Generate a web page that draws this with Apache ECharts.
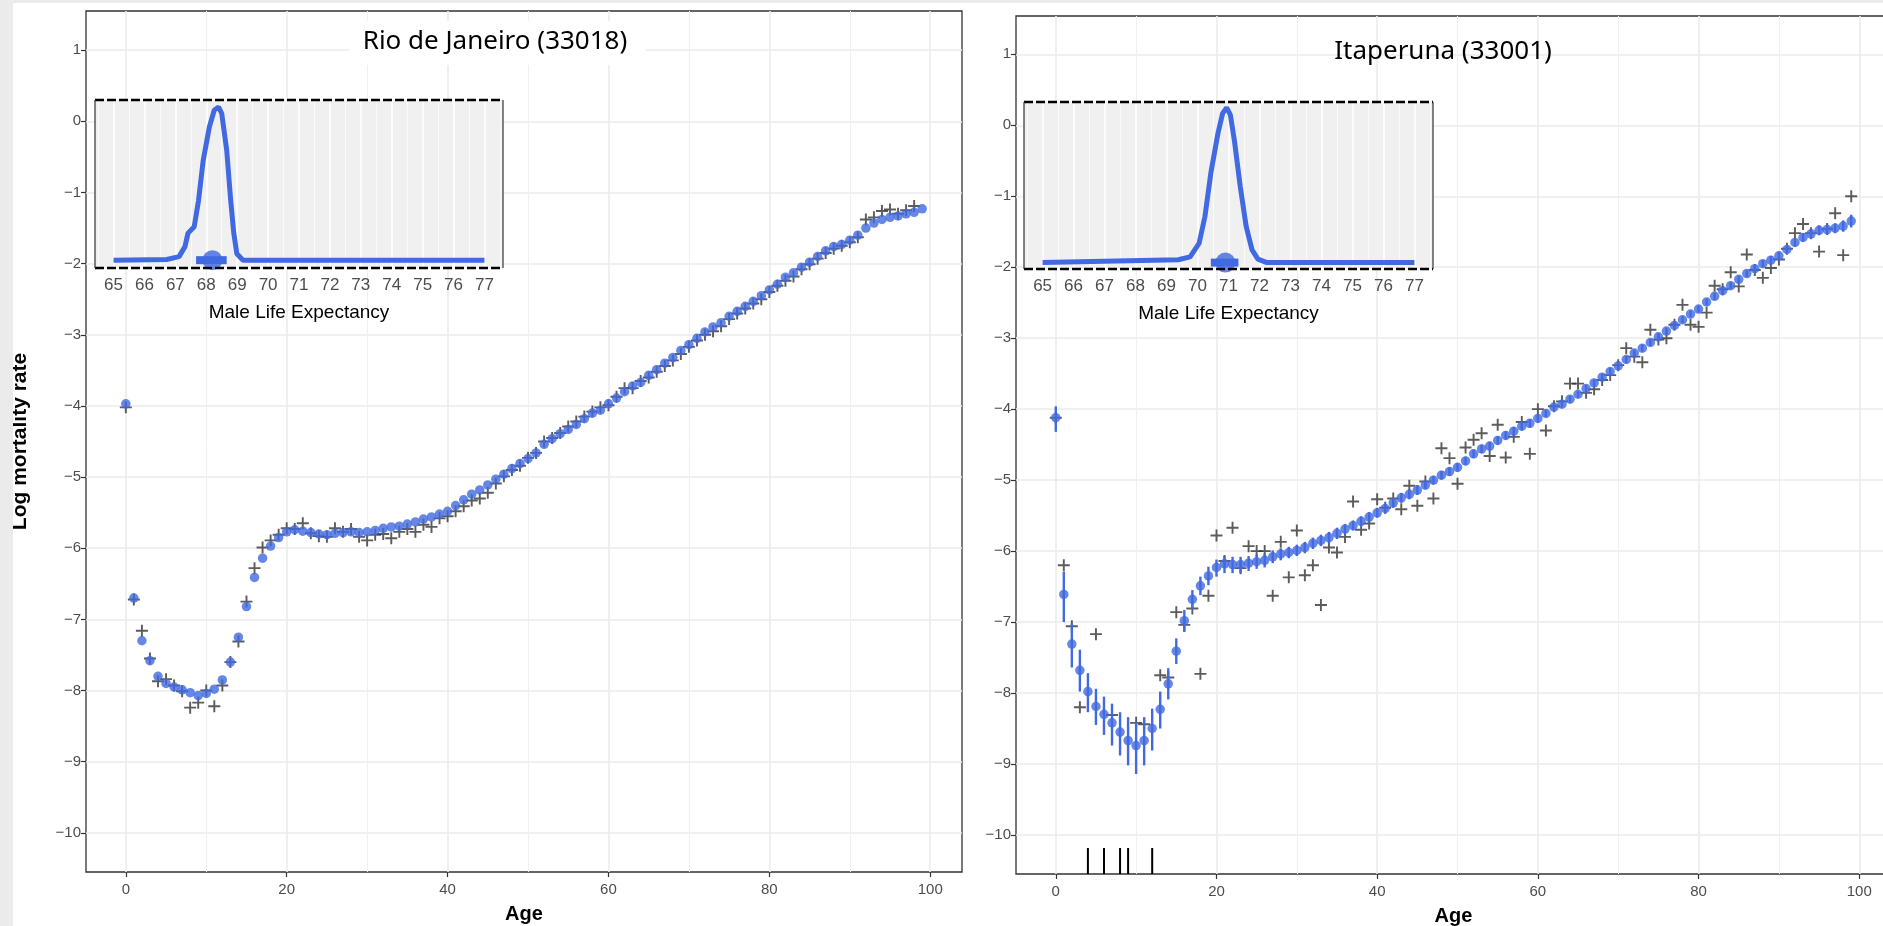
<!DOCTYPE html>
<html>
<head>
<meta charset="utf-8">
<title>Log mortality rate by age</title>
<style>
  body { margin: 0; padding: 0; background: #fff; }
  #chart { width: 1883px; height: 926px; }
</style>
<script src="https://cdn.jsdelivr.net/npm/echarts@6.0.0/dist/echarts.min.js"></script>
</head>
<body>
<div id="chart"></div>
<script>
// ages 0..99
var ages = [0,1,2,3,4,5,6,7,8,9,10,11,12,13,14,15,16,17,18,19,20,21,22,23,24,25,26,27,28,29,
  30,31,32,33,34,35,36,37,38,39,40,41,42,43,44,45,46,47,48,49,50,51,52,53,54,55,56,57,58,59,
  60,61,62,63,64,65,66,67,68,69,70,71,72,73,74,75,76,77,78,79,80,81,82,83,84,85,86,87,88,89,
  90,91,92,93,94,95,96,97,98,99];

// Rio de Janeiro: fitted (dots) and observed (crosses)
var rioFit = [-3.97,-6.70,-7.30,-7.58,-7.80,-7.90,-7.95,-7.99,-8.03,-8.07,
  -8.04,-7.98,-7.85,-7.60,-7.25,-6.82,-6.41,-6.14,-5.97,-5.85,
  -5.77,-5.74,-5.76,-5.78,-5.80,-5.81,-5.79,-5.78,-5.77,-5.78,
  -5.77,-5.75,-5.72,-5.70,-5.69,-5.66,-5.63,-5.59,-5.56,-5.52,
  -5.48,-5.40,-5.32,-5.24,-5.18,-5.11,-5.03,-4.96,-4.88,-4.81,
  -4.74,-4.66,-4.54,-4.46,-4.39,-4.33,-4.26,-4.18,-4.10,-4.06,
  -3.97,-3.89,-3.80,-3.72,-3.67,-3.57,-3.49,-3.40,-3.32,-3.22,
  -3.14,-3.05,-2.96,-2.89,-2.83,-2.74,-2.67,-2.60,-2.53,-2.45,
  -2.37,-2.29,-2.19,-2.13,-2.05,-1.98,-1.90,-1.82,-1.76,-1.73,
  -1.67,-1.60,-1.50,-1.43,-1.38,-1.35,-1.33,-1.30,-1.28,-1.23];
var rioObs = [-4.02,-6.72,-7.16,-7.55,-7.87,-7.84,-7.93,-8.01,-8.24,-8.17,
  -8.00,-8.22,-7.93,-7.60,-7.31,-6.75,-6.28,-5.99,-5.89,-5.81,
  -5.72,-5.73,-5.65,-5.79,-5.83,-5.84,-5.72,-5.77,-5.73,-5.84,
  -5.89,-5.81,-5.80,-5.86,-5.77,-5.73,-5.77,-5.67,-5.70,-5.58,
  -5.55,-5.48,-5.41,-5.33,-5.30,-5.22,-5.09,-4.99,-4.90,-4.84,
  -4.73,-4.66,-4.50,-4.45,-4.38,-4.29,-4.22,-4.15,-4.08,-4.02,
  -3.99,-3.87,-3.75,-3.75,-3.65,-3.60,-3.52,-3.44,-3.36,-3.27,
  -3.17,-3.08,-3.00,-2.95,-2.88,-2.78,-2.70,-2.63,-2.56,-2.50,
  -2.40,-2.31,-2.24,-2.18,-2.08,-2.01,-1.93,-1.85,-1.79,-1.75,
  -1.70,-1.63,-1.38,-1.35,-1.26,-1.24,-1.30,-1.25,-1.19,null];

// Itaperuna: fitted, interval bounds, observed, ages with zero deaths
var itaFit = [-4.12,-6.61,-7.31,-7.68,-7.98,-8.19,-8.30,-8.42,-8.55,-8.67,
  -8.74,-8.67,-8.50,-8.23,-7.87,-7.41,-6.98,-6.68,-6.49,-6.35,
  -6.23,-6.18,-6.19,-6.19,-6.17,-6.15,-6.13,-6.08,-6.04,-6.02,
  -5.99,-5.95,-5.89,-5.85,-5.81,-5.75,-5.69,-5.64,-5.58,-5.52,
  -5.46,-5.40,-5.32,-5.25,-5.20,-5.14,-5.07,-5.00,-4.93,-4.88,
  -4.82,-4.73,-4.63,-4.56,-4.52,-4.44,-4.37,-4.31,-4.24,-4.20,
  -4.13,-4.06,-3.97,-3.93,-3.86,-3.79,-3.71,-3.63,-3.55,-3.47,
  -3.39,-3.30,-3.21,-3.14,-3.06,-2.98,-2.90,-2.82,-2.74,-2.66,
  -2.59,-2.49,-2.41,-2.33,-2.26,-2.17,-2.09,-2.02,-1.95,-1.90,
  -1.84,-1.75,-1.65,-1.58,-1.53,-1.48,-1.47,-1.45,-1.42,-1.35];
var itaLow = [-4.32,-7.00,-7.64,-7.98,-8.27,-8.45,-8.59,-8.74,-8.88,-9.02,
  -9.14,-9.02,-8.81,-8.50,-8.09,-7.59,-7.14,-6.82,-6.62,-6.48,
  -6.36,-6.31,-6.31,-6.31,-6.28,-6.25,-6.23,-6.17,-6.13,-6.10,
  -6.07,-6.03,-5.97,-5.93,-5.89,-5.83,-5.76,-5.71,-5.65,-5.59,
  -5.53,-5.47,-5.39,-5.32,-5.27,-5.21,-5.13,-5.06,-4.99,-4.94,
  -4.88,-4.79,-4.69,-4.62,-4.58,-4.50,-4.43,-4.37,-4.30,-4.26,
  -4.19,-4.11,-4.02,-3.98,-3.91,-3.84,-3.76,-3.68,-3.60,-3.52,
  -3.44,-3.35,-3.26,-3.19,-3.11,-3.03,-2.95,-2.87,-2.79,-2.71,
  -2.64,-2.54,-2.46,-2.38,-2.31,-2.22,-2.14,-2.07,-2.00,-1.96,
  -1.90,-1.81,-1.71,-1.64,-1.60,-1.55,-1.54,-1.52,-1.50,-1.44];
var itaHigh = [-3.96,-6.29,-7.02,-7.39,-7.72,-7.94,-8.05,-8.15,-8.27,-8.34,
  -8.41,-8.34,-8.22,-7.98,-7.65,-7.23,-6.83,-6.55,-6.36,-6.22,
  -6.12,-6.07,-6.08,-6.08,-6.07,-6.05,-6.04,-5.99,-5.96,-5.94,
  -5.91,-5.87,-5.81,-5.77,-5.73,-5.67,-5.62,-5.57,-5.51,-5.45,
  -5.39,-5.33,-5.25,-5.18,-5.13,-5.07,-5.01,-4.94,-4.87,-4.82,
  -4.76,-4.67,-4.57,-4.50,-4.46,-4.38,-4.31,-4.25,-4.18,-4.14,
  -4.07,-4.01,-3.92,-3.88,-3.81,-3.74,-3.66,-3.58,-3.50,-3.42,
  -3.34,-3.25,-3.16,-3.09,-3.01,-2.93,-2.85,-2.77,-2.69,-2.61,
  -2.54,-2.44,-2.36,-2.28,-2.21,-2.12,-2.04,-1.97,-1.90,-1.84,
  -1.78,-1.69,-1.59,-1.52,-1.46,-1.41,-1.40,-1.38,-1.34,-1.26];
var itaObs = [-4.12,-6.20,-7.06,-8.20,null,-7.17,null,-8.31,null,null,
  -8.42,-8.44,null,-7.75,-7.78,-6.86,-7.04,-6.81,-7.73,-6.63,
  -5.78,-6.14,-5.67,-6.24,-5.93,-6.00,-6.00,-6.63,-5.87,-6.37,
  -5.71,-6.34,-6.20,-6.76,-5.95,-6.02,-5.80,-5.30,-5.70,-5.61,
  -5.27,-5.39,-5.26,-5.41,-5.08,-5.36,-5.02,-5.26,-4.55,-4.69,
  -5.05,-4.54,-4.43,-4.34,-4.66,-4.22,-4.68,-4.39,-4.18,-4.63,
  -4.00,-4.30,-3.96,-3.89,-3.64,-3.64,-3.77,-3.72,-3.59,-3.52,
  -3.38,-3.14,-3.26,-3.34,-2.88,-3.02,-3.00,-2.81,-2.53,-2.81,
  -2.84,-2.64,-2.26,-2.31,-2.07,-2.27,-1.82,-2.04,-2.15,-2.01,
  -1.89,-1.74,-1.52,-1.39,-1.52,-1.78,-1.46,-1.24,-1.83,-1.00];
var itaRugAges = [4, 6, 8, 9, 12];

// inset: male life expectancy density
var rioDensX = [65, 66.72, 67.12, 67.31, 67.41, 67.61, 67.75, 67.9, 68.1, 68.26, 68.4, 68.5, 68.66, 68.79, 68.89, 68.99, 69.19, 77];
var rioDensY = [-1.95, -1.94, -1.90, -1.76, -1.57, -1.48, -1.11, -0.55, -0.08, 0.16, 0.20, 0.11, -0.40, -1.11, -1.57, -1.86, -1.95, -1.95];
var rioLE = 68.2, rioLEInt = [67.67, 68.66], rioBase = -1.95;
var itaDensX = [65, 69.38, 69.76, 70.05, 70.24, 70.43, 70.66, 70.81, 70.94, 71.06, 71.19, 71.38, 71.57, 71.76, 71.95, 72.24, 77];
var itaDensY = [-1.93, -1.89, -1.85, -1.66, -1.28, -0.67, -0.11, 0.17, 0.25, 0.15, -0.21, -0.86, -1.42, -1.75, -1.88, -1.93, -1.93];
var itaLE = 70.9, itaLEInt = [70.43, 71.32], itaBase = -1.93;

// tick labels
var ageTicks = [0, 20, 40, 60, 80, 100];
var ageMinor = [10, 30, 50, 70, 90];
var yTicks = [1, 0, -1, -2, -3, -4, -5, -6, -7, -8, -9, -10];
var leTicks = [65, 66, 67, 68, 69, 70, 71, 72, 73, 74, 75, 76, 77];
var leMinor = [64.5, 65.5, 66.5, 67.5, 68.5, 69.5, 70.5, 71.5, 72.5, 73.5, 74.5, 75.5, 76.5, 77.5];

var BLUE = '#4169e1';
var FONT = 'Liberation Sans, Arial, sans-serif';
var insetL = {left: 95, top: 100, width: 408, height: 168};
var insetR = {left: 1024, top: 102, width: 409, height: 167};

function pairs(xs, ys) {
    var out = [];
    for (var i = 0; i < xs.length; i++) {
        if (ys[i] !== null) out.push([xs[i], ys[i]]);
    }
    return out;
}
function minus(v) { return String(v).replace('-', '\u2212'); }

function majorX(gi) {
    return {
        gridIndex: gi, type: 'value', min: -4.95, max: 103.95, position: 'bottom',
        axisLine: {show: false, onZero: false},
        axisTick: {show: true, customValues: ageTicks, length: 5, lineStyle: {color: '#333', width: 1.2}},
        axisLabel: {customValues: ageTicks, color: '#4d4d4d', fontSize: 15, margin: 10, fontFamily: FONT},
        splitLine: {show: true, lineStyle: {color: '#ebebeb', width: 1.6}},
        name: 'Age', nameLocation: 'middle', nameGap: 32,
        nameTextStyle: {fontSize: 20, fontWeight: 'bold', color: '#000', fontFamily: FONT}
    };
}
function minorX(gi, minV, maxV, vals, color) {
    return {
        gridIndex: gi, type: 'value', min: minV, max: maxV, position: 'bottom', z: gi > 1 ? 4 : 0,
        axisLine: {show: false, onZero: false},
        axisTick: {show: false, customValues: vals},
        axisLabel: {show: false},
        splitLine: {show: true, lineStyle: {color: color, width: 1}}
    };
}
function mainY(gi, maxV, withName) {
    var ax = {
        gridIndex: gi, type: 'value', min: -10.55, max: maxV, position: 'left',
        axisLine: {show: false, onZero: false},
        axisTick: {show: true, customValues: yTicks, length: 5, lineStyle: {color: '#333', width: 1.2}},
        axisLabel: {customValues: yTicks, color: '#4d4d4d', fontSize: 15, margin: 5, fontFamily: FONT,
            formatter: function (v) { return minus(v); }},
        splitLine: {show: true, lineStyle: {color: '#ebebeb', width: 1.6}}
    };
    if (withName) {
        ax.name = 'Log mortality rate';
        ax.nameLocation = 'middle';
        ax.nameGap = 55;
        ax.nameTextStyle = {fontSize: 21, fontWeight: 'bold', color: '#000', fontFamily: FONT};
    }
    return ax;
}
function insetX(gi) {
    return {
        gridIndex: gi, type: 'value', min: 64.4, max: 77.6, z: 4, position: 'bottom',
        axisLine: {show: false, onZero: false},
        axisTick: {show: false, customValues: leTicks},
        axisLabel: {customValues: leTicks, color: '#4d4d4d', fontSize: 17, margin: 9, fontFamily: FONT},
        splitLine: {show: true, lineStyle: {color: '#ffffff', width: 1.6}},
        name: 'Male Life Expectancy', nameLocation: 'middle', nameGap: 35,
        nameTextStyle: {fontSize: 19, color: '#000', fontFamily: FONT}
    };
}
function insetY(gi, minV, maxV) {
    return {gridIndex: gi, type: 'value', min: minV, max: maxV, show: false,
        axisLine: {onZero: false}, splitLine: {show: false}};
}

function crossSeries(xi, yi, data) {
    return {
        type: 'scatter', xAxisIndex: xi, yAxisIndex: yi, data: data, z: 2,
        symbol: 'path://M4.2,0H5.8V4.2H10V5.8H5.8V10H4.2V5.8H0V4.2H4.2Z',
        symbolSize: 12, symbolKeepAspect: true,
        itemStyle: {color: '#333333'}, silent: true
    };
}
function dotSeries(xi, yi, data) {
    return {
        type: 'scatter', xAxisIndex: xi, yAxisIndex: yi, data: data, z: 3,
        symbol: 'circle', symbolSize: 9.5, itemStyle: {color: BLUE}, silent: true
    };
}
function densitySeries(xi, yi, xs, ys, le, leInt, base) {
    return [{
        type: 'line', xAxisIndex: xi, yAxisIndex: yi, data: pairs(xs, ys), z: 5,
        showSymbol: false, smooth: false, lineStyle: {color: BLUE, width: 5}, silent: true
    }, {
        type: 'line', xAxisIndex: xi, yAxisIndex: yi, data: [[leInt[0], base], [leInt[1], base]], z: 6,
        showSymbol: false, lineStyle: {color: BLUE, width: 8}, silent: true
    }, {
        type: 'scatter', xAxisIndex: xi, yAxisIndex: yi, data: [[le, base]], z: 7,
        symbol: 'circle', symbolSize: 20, itemStyle: {color: BLUE}, silent: true, clip: false
    }];
}

var itaBars = [];
for (var i = 0; i < ages.length; i++) itaBars.push([ages[i], itaLow[i], itaHigh[i]]);

var series = [
    crossSeries(0, 0, pairs(ages, rioObs)),
    dotSeries(0, 0, pairs(ages, rioFit)),
    crossSeries(2, 1, pairs(ages, itaObs)),
    {
        type: 'custom', xAxisIndex: 2, yAxisIndex: 1, data: itaBars, z: 3, silent: true,
        renderItem: function (params, api) {
            var a = api.coord([api.value(0), api.value(1)]);
            var b = api.coord([api.value(0), api.value(2)]);
            return {type: 'line', shape: {x1: a[0], y1: a[1], x2: b[0], y2: b[1]},
                style: {stroke: BLUE, lineWidth: 2.4}};
        }
    },
    dotSeries(2, 1, pairs(ages, itaFit)),
    {
        type: 'custom', xAxisIndex: 2, yAxisIndex: 1, data: itaRugAges.map(function (a) { return [a]; }),
        z: 3, silent: true,
        renderItem: function (params, api) {
            var p = api.coord([api.value(0), -10.55]);
            return {type: 'line', shape: {x1: p[0], y1: p[1], x2: p[0], y2: p[1] - 26},
                style: {stroke: '#000', lineWidth: 2}};
        }
    }
].concat(densitySeries(4, 2, rioDensX, rioDensY, rioLE, rioLEInt, rioBase))
 .concat(densitySeries(6, 3, itaDensX, itaDensY, itaLE, itaLEInt, itaBase));

function borderLines(r) {
    var x1 = r.left, x2 = r.left + r.width, y1 = r.top, y2 = r.top + r.height;
    var dash = {stroke: '#000', lineWidth: 2.5, lineDash: [9, 3]};
    var solid = {stroke: '#333', lineWidth: 1.2};
    return [
        {type: 'line', z: 20, shape: {x1: x1, y1: y1, x2: x2, y2: y1}, style: dash},
        {type: 'line', z: 20, shape: {x1: x1, y1: y2, x2: x2, y2: y2}, style: dash},
        {type: 'line', z: 20, shape: {x1: x1, y1: y1, x2: x1, y2: y2}, style: solid},
        {type: 'line', z: 20, shape: {x1: x2, y1: y1, x2: x2, y2: y2}, style: solid}
    ];
}

var chart = echarts.init(document.getElementById('chart'), null, {width: 1883, height: 926});
chart.setOption({
    backgroundColor: '#ffffff',
    animation: false,
    textStyle: {fontFamily: FONT},
    grid: [
        {left: 86, top: 11, width: 876, height: 861, show: true, borderColor: '#333', borderWidth: 1.3,
            backgroundColor: 'transparent', outerBoundsMode: 'none', containLabel: false},
        {left: 1016, top: 16, width: 875, height: 858, show: true, borderColor: '#333', borderWidth: 1.3,
            backgroundColor: 'transparent', outerBoundsMode: 'none', containLabel: false},
        {left: insetL.left, top: insetL.top, width: insetL.width, height: insetL.height, show: true, z: 3,
            borderWidth: 0, backgroundColor: '#f0f0f0', outerBoundsMode: 'none', containLabel: false},
        {left: insetR.left, top: insetR.top, width: insetR.width, height: insetR.height, show: true, z: 3,
            borderWidth: 0, backgroundColor: '#f0f0f0', outerBoundsMode: 'none', containLabel: false}
    ],
    xAxis: [
        majorX(0), minorX(0, -4.95, 103.95, ageMinor, '#f0f0f0'),
        majorX(1), minorX(1, -4.95, 103.95, ageMinor, '#f0f0f0'),
        insetX(2), minorX(2, 64.4, 77.6, leMinor, '#fafafa'),
        insetX(3), minorX(3, 64.4, 77.6, leMinor, '#fafafa')
    ],
    yAxis: [
        mainY(0, 1.55, true),
        mainY(1, 1.54, false),
        insetY(2, -2.06, 0.30),
        insetY(3, -2.02, 0.33)
    ],
    series: series,
    graphic: [
        {type: 'rect', z: 10, shape: {x: 0, y: 0, width: 13, height: 926}, style: {fill: '#ebebeb'}},
        {type: 'rect', z: 10, shape: {x: 0, y: 0, width: 1883, height: 3}, style: {fill: '#ebebeb'}},
        {type: 'rect', z: 10, shape: {x: 349, y: 21, width: 297, height: 44}, style: {fill: '#ffffff'}},
        {type: 'text', z: 11, x: 495, y: 42, style: {text: 'Rio de Janeiro (33018)', fill: '#000',
            font: '26px "Noto Sans", sans-serif', textAlign: 'center', textVerticalAlign: 'middle'}},
        {type: 'text', z: 11, x: 1443, y: 52, style: {text: 'Itaperuna (33001)', fill: '#000',
            font: '26px "Noto Sans", sans-serif', textAlign: 'center', textVerticalAlign: 'middle'}}
    ].concat(borderLines(insetL)).concat(borderLines(insetR))
});
</script>
</body>
</html>
